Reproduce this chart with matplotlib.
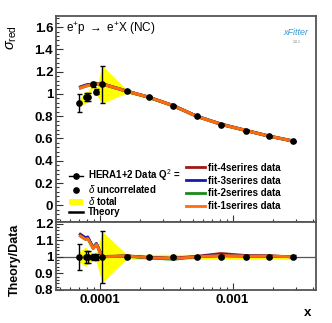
import numpy as np
import matplotlib
matplotlib.use('Agg')
import matplotlib.pyplot as plt
from matplotlib.lines import Line2D
from matplotlib.patches import Patch
from matplotlib.ticker import MultipleLocator, LogLocator, NullFormatter, FixedLocator, FixedFormatter

plt.rcParams['font.family'] = ['Liberation Sans', 'DejaVu Sans']
plt.rcParams['mathtext.fontset'] = 'custom'
plt.rcParams['mathtext.rm'] = 'Liberation Sans'
plt.rcParams['mathtext.it'] = 'Liberation Sans:italic'
plt.rcParams['mathtext.bf'] = 'Liberation Sans:bold'

# data
x_vals = [6.98e-5, 7.8e-5, 8.1e-5, 8.9e-5, 9.41e-5, 1.04e-4, 1.59e-4, 2.34e-4,
          3.57e-4, 5.35e-4, 8.17e-4, 1.26e-3, 1.87e-3, 2.85e-3]
sigma = [0.92, 0.97, 0.975, 1.085, 1.02, 1.085, 1.023, 0.97,
         0.895, 0.80, 0.725, 0.67, 0.62, 0.575]
sig_unc = [0.078, 0.035, 0.035, 0.025, 0.02, 0.17, 0.01, 0.008,
           0.007, 0.006, 0.006, 0.006, 0.006, 0.005]
sig_tot = [0.03, 0.055, 0.04, 0.02, 0.03, 0.17, 0.015, 0.013,
           0.012, 0.011, 0.01, 0.01, 0.009, 0.009]

th_fit1 = [1.05, 1.07, 1.075, 1.085, 1.09, 1.09, 1.025, 0.97,
           0.895, 0.80, 0.727, 0.672, 0.622, 0.577]
th_fit2 = [1.05, 1.07, 1.075, 1.085, 1.09, 1.09, 1.024, 0.969,
           0.893, 0.80, 0.726, 0.671, 0.621, 0.577]
th_fit3 = [1.058, 1.078, 1.082, 1.09, 1.093, 1.091, 1.025, 0.97,
           0.895, 0.80, 0.728, 0.672, 0.622, 0.577]
th_fit4 = [1.057, 1.077, 1.081, 1.089, 1.093, 1.091, 1.026, 0.971,
           0.896, 0.801, 0.73, 0.673, 0.623, 0.577]

r_unc = [0.08, 0.035, 0.035, 0.02, 0.02, 0.155, 0.008, 0.005,
         0.005, 0.005, 0.008, 0.008, 0.008, 0.008]
r_tot = [0.03, 0.06, 0.04, 0.02, 0.03, 0.155, 0.015, 0.015,
         0.015, 0.015, 0.015, 0.015, 0.015, 0.015]
r_fit1 = [1.13, 1.105, 1.11, 1.05, 1.075, 1.0, 1.005, 0.995,
          0.99, 1.0, 1.008, 1.005, 1.005, 1.0]
r_fit2 = [1.13, 1.105, 1.11, 1.05, 1.075, 1.0, 1.003, 0.993,
          0.985, 1.0, 1.005, 1.003, 1.003, 1.0]
r_fit3 = [1.14, 1.115, 1.12, 1.055, 1.08, 1.0, 1.005, 0.995,
          0.99, 1.0, 1.012, 1.006, 1.005, 1.0]
r_fit4 = [1.14, 1.113, 1.118, 1.055, 1.08, 1.002, 1.006, 0.997,
          0.992, 1.003, 1.02, 1.008, 1.006, 1.0]

fit_names = ['fit-4serires data', 'fit-3serires data', 'fit-2serires data', 'fit-1serires data']
fit_colors = ['#a01818', '#1a1aa8', '#1a8a1a', '#ff6a10']

x = np.array(x_vals)
sig = np.array(sigma)
ones = np.ones_like(x)

fig = plt.figure(figsize=(3.32, 3.23), dpi=100)
ax = fig.add_axes([0.1687, 0.3127, 0.7831, 0.6378])
axr = fig.add_axes([0.1687, 0.1022, 0.7831, 0.2105])

yellow = '#ffff00'

# top panel
ax.fill_between(x, sig - np.array(sig_tot), sig + np.array(sig_tot), color=yellow, lw=0, zorder=1)
for th, c in zip([th_fit4, th_fit3, th_fit2, th_fit1], fit_colors):
    ax.plot(x, th, color=c, lw=2.2, zorder=2, solid_capstyle='butt')
ax.errorbar(x, sig, yerr=sig_unc, fmt='o', color='black', ms=3.8, lw=1.0,
            capsize=1.8, capthick=1.0, zorder=3)

# ratio panel
axr.axhline(1.0, color='#555555', lw=0.9, zorder=0)
axr.fill_between(x, 1 - np.array(r_tot), 1 + np.array(r_tot), color=yellow, lw=0, zorder=1)
for r, c in zip([r_fit4, r_fit3, r_fit2, r_fit1], fit_colors):
    axr.plot(x, r, color=c, lw=2.0, zorder=2, solid_capstyle='butt')
axr.errorbar(x, ones, yerr=r_unc, fmt='o', color='black', ms=3.8, lw=1.0,
             capsize=1.8, capthick=1.0, zorder=3)

xlim = (4.67e-5, 4.25e-3)
for a in (ax, axr):
    a.set_xscale('log')
    a.set_xlim(*xlim)
    a.xaxis.set_major_locator(LogLocator(base=10, numticks=10))
    a.xaxis.set_minor_locator(LogLocator(base=10, subs=np.arange(2, 10), numticks=20))
    a.xaxis.set_minor_formatter(NullFormatter())
    a.tick_params(which='both', direction='in', top=False, right=False, width=0.8, color='#333333')
    a.tick_params(which='major', length=5)
    a.tick_params(which='minor', length=2.5)
    a.tick_params(axis='y', labelsize=9.5, pad=2)
    a.tick_params(axis='x', labelsize=9.5, pad=3)
    for s in a.spines.values():
        s.set_color('#555555')
        s.set_linewidth(1.3)

ax.set_ylim(-0.15, 1.70)
ax.yaxis.set_major_locator(MultipleLocator(0.2))
ax.yaxis.set_minor_locator(MultipleLocator(0.04))
ax.yaxis.set_major_formatter(plt.FuncFormatter(lambda v, p: '%g' % round(v, 2)))
ax.xaxis.set_major_formatter(NullFormatter())

axr.set_ylim(0.8, 1.21)
axr.yaxis.set_major_locator(MultipleLocator(0.1))
axr.yaxis.set_minor_locator(MultipleLocator(0.02))
axr.yaxis.set_major_formatter(plt.FuncFormatter(lambda v, p: '%g' % round(v, 2)))
axr.xaxis.set_major_locator(FixedLocator([1e-4, 1e-3]))
axr.xaxis.set_major_formatter(FixedFormatter(['0.0001', '0.001']))
for a in (ax, axr):
    for lab in a.get_yticklabels() + a.get_xticklabels():
        lab.set_fontweight('bold')

# labels
fig.text(0.035, 0.885, r'$\sigma_{\rm red}$', rotation=90, fontsize=10.5, ha='center', va='center')
fig.text(0.045, 0.195, 'Theory/Data', rotation=90, fontsize=9, fontweight='bold',
         ha='center', va='center')
fig.text(0.925, 0.03, 'x', fontsize=9.5, fontweight='bold', ha='center', va='center')
fig.text(0.198, 0.91, r'e$^{+}$p $\rightarrow$ e$^{+}$X (NC)', fontsize=8.5, ha='left', va='center')

# xFitter logo as text
fig.text(0.89, 0.9, 'xFitter', fontsize=6.5, style='italic', color='#3a9ad9',
         ha='center', va='center')
fig.text(0.895, 0.87, '1.0.1', fontsize=2.5, color='#777777', ha='center', va='center')

# legends
h_data = Line2D([], [], color='black', marker='o', ms=3.8, lw=1.0)
h_unc = Line2D([], [], color='black', marker='o', ms=3.8, lw=0)
h_tot = Patch(facecolor=yellow, edgecolor='none')
h_th = Line2D([], [], color='black', lw=1.8)
leg1 = ax.legend([h_data, h_unc, h_tot, h_th],
                 ['HERA1+2 Data Q$^{2}$ =', r'$\delta$ uncorrelated', r'$\delta$ total', 'Theory'],
                 loc='center left', bbox_to_anchor=(69 / 332, 1 - 192.5 / 323),
                 bbox_transform=fig.transFigure, frameon=False, borderpad=0, borderaxespad=0,
                 handlelength=1.45, handletextpad=0.5, labelspacing=0.0,
                 prop={'size': 7, 'weight': 'bold'})
ax.add_artist(leg1)
fit_handles = [Line2D([], [], color=c, lw=2.0) for c in fit_colors]
ax.legend(fit_handles, fit_names,
          loc='center left', bbox_to_anchor=(186 / 332, 1 - 187 / 323),
          bbox_transform=fig.transFigure, frameon=False, borderpad=0, borderaxespad=0,
          handlelength=2.0, handletextpad=0.3, labelspacing=0.3,
          prop={'size': 7, 'weight': 'bold'})

fig.savefig('out.png', dpi=100)
